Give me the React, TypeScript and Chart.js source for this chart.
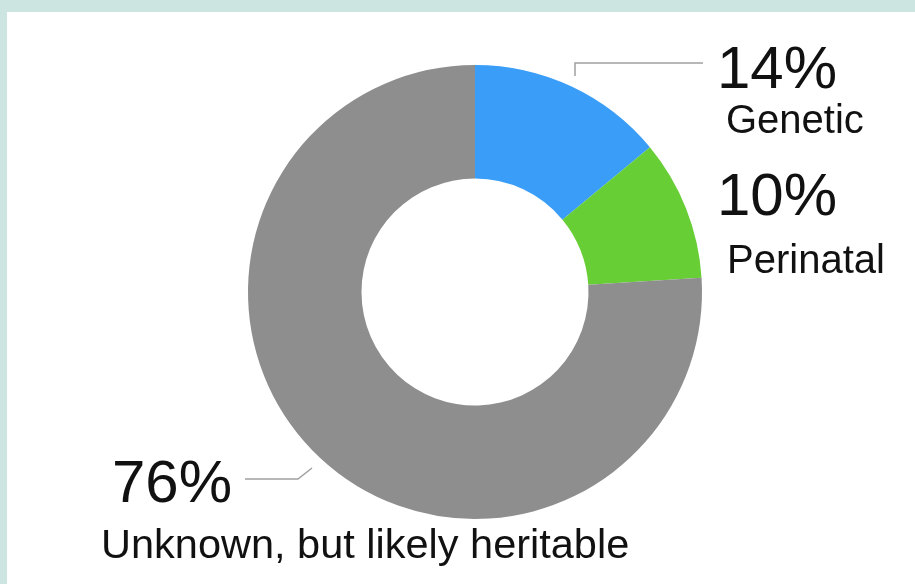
import React, { useEffect, useRef } from "react";
import { Chart, registerables } from "chart.js";

Chart.register(...registerables);

const categories = ["Genetic", "Perinatal", "Unknown, but likely heritable"];
const values = [14, 10, 76];
const percentLabels = ["14%", "10%", "76%"];
const colors = ["#3A9DF7", "#67CE36", "#8E8E8E"];

const labelPlugin = {
  id: "sideLabels",
  afterDraw(chart: any) {
    const meta = chart.getDatasetMeta(0);
    const arc = meta.data[0];
    if (!arc) return;
    const cx = arc.x;
    const cy = arc.y;
    const R = arc.outerRadius;
    const ctx = chart.ctx;
    ctx.save();
    // leader lines
    ctx.strokeStyle = "#A0A0A0";
    ctx.lineWidth = 1.5;
    ctx.beginPath();
    ctx.moveTo(cx + 100, cy - R + 11);
    ctx.lineTo(cx + 100, cy - R - 2);
    ctx.lineTo(cx + 228, cy - R - 2);
    ctx.stroke();
    ctx.beginPath();
    ctx.moveTo(cx - 230, cy + 187);
    ctx.lineTo(cx - 177, cy + 187);
    ctx.lineTo(cx - 163, cy + 176);
    ctx.stroke();

    ctx.fillStyle = "#111111";
    ctx.textAlign = "left";
    ctx.textBaseline = "alphabetic";
    const fam = "'Liberation Sans', Arial, sans-serif";
    ctx.font = "60px " + fam;
    ctx.fillText(percentLabels[0], cx + 242, cy - 204);
    ctx.fillText(percentLabels[1], cx + 242, cy - 77);
    ctx.fillText(percentLabels[2], cx - 363, cy + 210);
    ctx.font = "40px " + fam;
    ctx.fillText(categories[0], cx + 251, cy - 159);
    ctx.fillText(categories[1], cx + 252, cy - 19);
    ctx.font = "41.5px " + fam;
    ctx.fillText(categories[2], cx - 374, cy + 266);
    ctx.restore();
  },
};

export default function App() {
  const canvasRef = useRef<HTMLCanvasElement | null>(null);

  useEffect(() => {
    if (!canvasRef.current) return;
    const chart = new Chart(canvasRef.current, {
      type: "doughnut",
      data: {
        labels: categories,
        datasets: [
          {
            data: values,
            backgroundColor: colors,
            borderWidth: 0,
          },
        ],
      },
      options: {
        animation: false,
        responsive: false,
        cutout: "50%",
        layout: { padding: { left: 248, right: 213, top: 65, bottom: 65 } },
        plugins: {
          legend: { display: false },
          tooltip: { enabled: false },
        },
      },
      plugins: [labelPlugin],
    });
    return () => chart.destroy();
  }, []);

  return (
    <div
      style={{
        position: "fixed",
        left: 0,
        top: 0,
        width: 915,
        height: 584,
        background: "#CDE5E0",
        overflow: "hidden",
      }}
    >
      <div
        style={{
          position: "absolute",
          left: 7,
          top: 12,
          right: 0,
          bottom: 0,
          background: "#FFFFFF",
        }}
      />
      <canvas
        ref={canvasRef}
        width={915}
        height={584}
        style={{ position: "absolute", left: 0, top: 0, width: 915, height: 584 }}
      />
    </div>
  );
}
